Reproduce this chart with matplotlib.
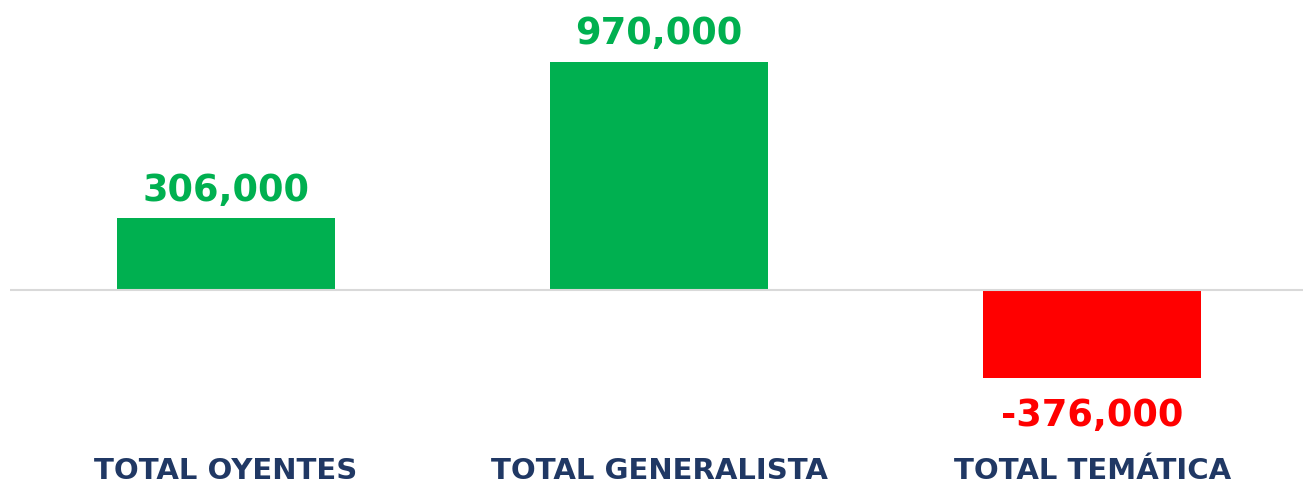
import matplotlib.pyplot as plt
from matplotlib.transforms import blended_transform_factory

# datos
categorias = ['TOTAL OYENTES', 'TOTAL GENERALISTA', 'TOTAL TEMÁTICA']
valores = [306000, 970000, -376000]
etiquetas = ['306,000', '970,000', '-376,000']

verde = '#00B050'
rojo = '#FF0000'
azul = '#203864'

fig = plt.figure(figsize=(13.03, 4.85), dpi=100)
ax = fig.add_axes([10 / 1303, 0, 1 - 10 / 1303, 1])

colores = [verde if v >= 0 else rojo for v in valores]
x = list(range(len(valores)))
ax.bar(x, valores, width=0.503, color=colores, zorder=2)

# linea del cero
ax.axhline(0, color='#d9d9d9', linewidth=1.5, zorder=3)

escala = 970000 / 228
ax.set_ylim(-194.5 * escala, 290.5 * escala)
ax.set_xlim(-0.499, 2.487)

# etiquetas de valores
for xi, v, txt, c in zip(x, valores, etiquetas, colores):
    if v >= 0:
        ax.annotate(txt, (xi, v), xytext=(0, 13), textcoords='offset points',
                    ha='center', va='baseline', fontsize=26.5,
                    fontweight='bold', color=c)
    else:
        ax.annotate(txt, (xi, v), xytext=(0, -13), textcoords='offset points',
                    ha='center', va='top', fontsize=26.5,
                    fontweight='bold', color=c)

# categorias abajo
trans = blended_transform_factory(ax.transData, fig.transFigure)
for xi, cat in zip(x, categorias):
    ax.text(xi, 6 / 485, cat, transform=trans, ha='center', va='baseline',
            fontsize=21, fontweight='bold', color=azul)

ax.axis('off')

plt.savefig('out.png', dpi=100)
